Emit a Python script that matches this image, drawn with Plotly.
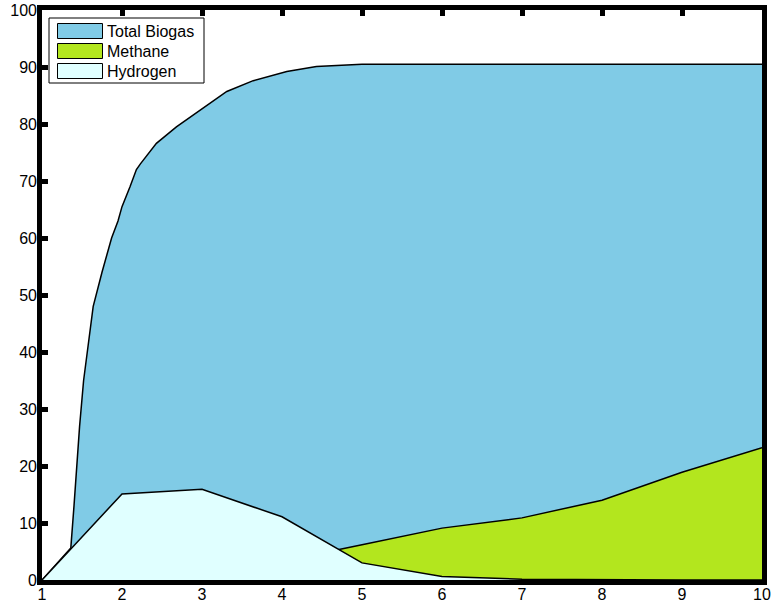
import plotly.graph_objects as go

# ---------------- data ----------------
series_names = ["Total Biogas", "Methane", "Hydrogen"]
series_colors = ["#80CBE6", "#B3E61E", "#E0FFFF"]

biogas_x = [1, 1.36, 1.40, 1.43, 1.47, 1.52, 1.58, 1.64, 1.75, 1.87, 1.95, 2.0,
            2.1, 2.18, 2.23, 2.43, 2.68, 2.98, 3.31, 3.64, 4.06, 4.43, 4.73,
            5, 6, 7, 8, 9, 10]
biogas_y = [0, 5.6, 13, 19, 27, 35, 42, 48, 54, 60, 63, 65.5,
            69, 72, 73, 76.6, 79.5, 82.5, 85.7, 87.6, 89.2, 90.1, 90.3,
            90.5, 90.5, 90.5, 90.5, 90.5, 90.5]

days = [1, 2, 3, 4, 5, 6, 7, 8, 9, 10]
methane = [0, 0.3, 0.8, 3.3, 6.2, 9.1, 10.9, 14.0, 18.9, 23.2]
hydrogen = [0, 15.1, 15.9, 11.1, 3.0, 0.6, 0.15, 0.05, 0.02, 0]

x_ticks = list(range(1, 11))
y_ticks = list(range(0, 101, 10))

# ---------------- layout constants ----------------
W, H = 772, 605
ML, MR, MT, MB = 42, 10, 10, 25
PW, PH = W - ML - MR, H - MT - MB
FONT = "Liberation Sans, Arial, Helvetica, sans-serif"


def px_x(p):
    return (p - ML) / PW


def px_y(p):
    return (H - MB - p) / PH


fig = go.Figure()
series = [(biogas_x, biogas_y), (days, methane), (days, hydrogen)]
for (xs, ys), name, col in zip(series, series_names, series_colors):
    fig.add_trace(go.Scatter(
        x=xs, y=ys, name=name, mode="lines", fill="tozeroy",
        fillcolor=col, line=dict(color="black", width=1.5),
        showlegend=False, hoverinfo="x+y+name"))

shapes = []
# thick axes box drawn outside plot area
t = 5
shapes.append(dict(type="rect", xref="paper", yref="paper", layer="above",
                   x0=px_x(ML - t), x1=0, y0=px_y(H - MB + t), y1=px_y(MT - t),
                   fillcolor="black", line=dict(width=0)))
shapes.append(dict(type="rect", xref="paper", yref="paper", layer="above",
                   x0=1, x1=px_x(W - MR + t), y0=px_y(H - MB + t), y1=px_y(MT - t),
                   fillcolor="black", line=dict(width=0)))
shapes.append(dict(type="rect", xref="paper", yref="paper", layer="above",
                   x0=px_x(ML - t), x1=px_x(W - MR + t), y0=px_y(H - MB + t), y1=0,
                   fillcolor="black", line=dict(width=0)))
shapes.append(dict(type="rect", xref="paper", yref="paper", layer="above",
                   x0=px_x(ML - t), x1=px_x(W - MR + t), y0=1, y1=px_y(MT - t),
                   fillcolor="black", line=dict(width=0)))

# custom legend box
shapes.append(dict(type="rect", xref="paper", yref="paper", layer="above",
                   x0=px_x(49), x1=px_x(204), y0=px_y(83), y1=px_y(18),
                   fillcolor="white", line=dict(color="black", width=1)))
annotations = []
for i, (name, col) in enumerate(zip(series_names, series_colors)):
    top = 23.5 + 20 * i
    shapes.append(dict(type="rect", xref="paper", yref="paper", layer="above",
                       x0=px_x(57.5), x1=px_x(102.5), y0=px_y(top + 15), y1=px_y(top),
                       fillcolor=col, line=dict(color="black", width=1)))
    annotations.append(dict(xref="paper", yref="paper", x=px_x(105),
                            y=px_y(top + 7.5), xanchor="left", yanchor="middle",
                            text=name, showarrow=False,
                            font=dict(family=FONT, size=16, color="black")))

axis_common = dict(
    showgrid=False, zeroline=False, showline=False, automargin=False,
    ticks="inside", ticklen=6, tickwidth=5, tickcolor="black",
    mirror="ticks", layer="below traces",
    tickfont=dict(family=FONT, size=16, color="black"),
)

fig.update_layout(
    width=W, height=H,
    margin=dict(l=ML, r=MR, t=MT, b=MB, pad=0, autoexpand=False),
    paper_bgcolor="white", plot_bgcolor="white",
    xaxis=dict(range=[1, 10], tickvals=x_ticks, ticktext=[str(v) for v in x_ticks],
               ticklabelstandoff=3, **axis_common),
    yaxis=dict(range=[0, 100], tickvals=y_ticks, ticktext=[str(v) for v in y_ticks],
               ticklabelstandoff=4, **axis_common),
    shapes=shapes, annotations=annotations,
    showlegend=False,
)

fig.write_html("out.html", config={"displayModeBar": False},
               post_script="document.body.style.margin='0px';document.body.style.overflow='hidden';")
